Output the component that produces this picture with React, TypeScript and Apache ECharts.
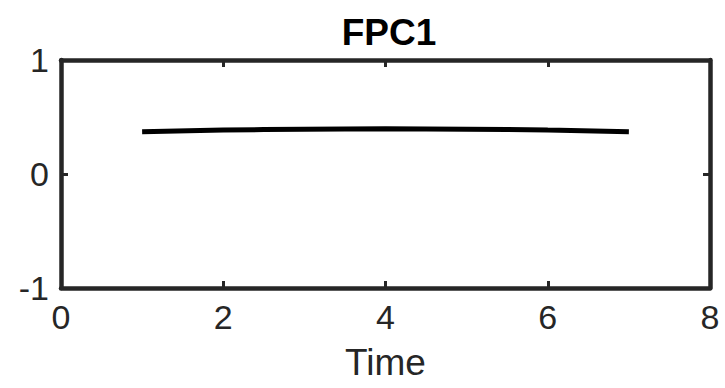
import React, { useEffect, useRef } from "react";
import * as echarts from "echarts";

const timeValues = [1, 2, 3, 4, 5, 6, 7];
const fpc1Values = [0.37, 0.385, 0.393, 0.396, 0.393, 0.385, 0.37];
const titleText = "FPC1";
const xAxisName = "Time";

const AXIS_COLOR = "#262626";
const FONT = "Liberation Sans, Arial, sans-serif";

export default function App() {
  const ref = useRef<HTMLDivElement>(null);
  useEffect(() => {
    if (!ref.current) return;
    const chart = echarts.init(ref.current, null, { renderer: "svg" });
    const lineStyle = { color: AXIS_COLOR, width: 4.5 };
    const tick = { show: true, inside: true, length: 7, lineStyle: { color: AXIS_COLOR, width: 3 } };
    chart.setOption({
      animation: false,
      backgroundColor: "#ffffff",
      title: {
        text: titleText,
        left: 384,
        textAlign: "center",
        top: 9,
        textStyle: { fontFamily: FONT, fontSize: 37, fontWeight: "bold", color: "#000" },
      },
      grid: { left: 61, right: 15, top: 60, bottom: 100 },
      xAxis: [
        {
          type: "value",
          min: 0,
          max: 8,
          interval: 2,
          position: "bottom",
          name: xAxisName,
          nameLocation: "middle",
          nameGap: 56,
          nameTextStyle: { fontFamily: FONT, fontSize: 37, color: AXIS_COLOR },
          axisLine: { show: true, onZero: false, lineStyle },
          axisTick: tick,
          axisLabel: { fontFamily: FONT, fontSize: 34, color: AXIS_COLOR, margin: 12 },
          splitLine: { show: false },
        },
        {
          type: "value",
          min: 0,
          max: 8,
          interval: 2,
          position: "top",
          axisLine: { show: true, onZero: false, lineStyle },
          axisTick: tick,
          axisLabel: { show: false },
          splitLine: { show: false },
        },
      ],
      yAxis: [
        {
          type: "value",
          min: -1,
          max: 1,
          interval: 1,
          position: "left",
          axisLine: { show: true, onZero: false, lineStyle },
          axisTick: tick,
          axisLabel: { fontFamily: FONT, fontSize: 34, color: AXIS_COLOR, margin: 12 },
          splitLine: { show: false },
        },
        {
          type: "value",
          min: -1,
          max: 1,
          interval: 1,
          position: "right",
          axisLine: { show: true, onZero: false, lineStyle },
          axisTick: tick,
          axisLabel: { show: false },
          splitLine: { show: false },
        },
      ],
      series: [
        {
          type: "line",
          data: timeValues.map((t, i) => [t, fpc1Values[i]]),
          smooth: true,
          showSymbol: false,
          lineStyle: { color: "#000", width: 5 },
        },
      ],
    });
    return () => chart.dispose();
  }, []);
  return <div ref={ref} style={{ width: 725, height: 388, position: "absolute", left: 0, top: 0 }} />;
}
